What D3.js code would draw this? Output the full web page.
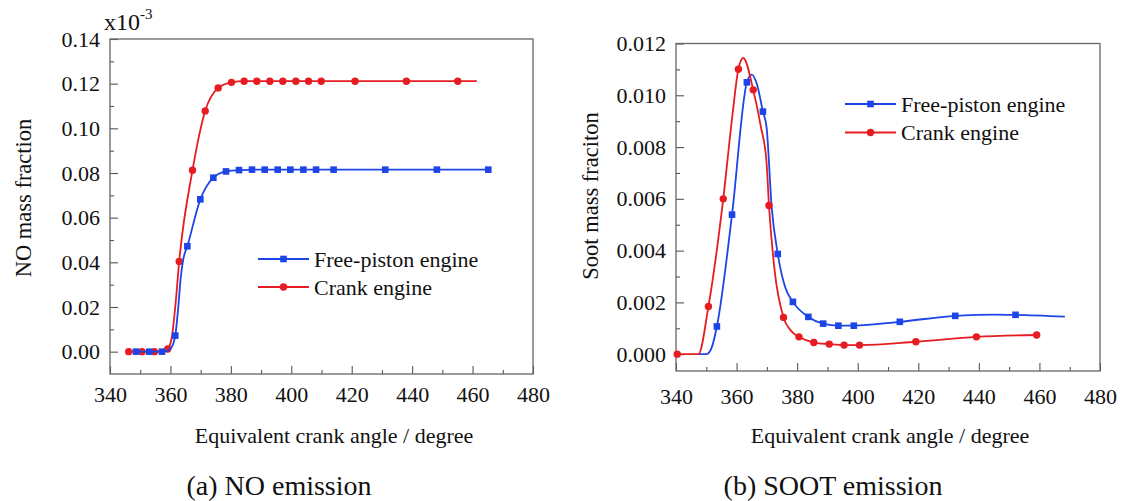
<!DOCTYPE html>
<html>
<head>
<meta charset="utf-8">
<script src="https://cdn.jsdelivr.net/npm/d3@7"></script>
<style>
  body { margin: 0; background: #fff; }
  svg text { font-family: "Liberation Serif", "Times New Roman", serif; fill: #111; }
</style>
</head>
<body>
<div id="chart"></div>
<script>
// ---- data ----
// (a) NO mass fraction (x10^-3), crank angle in degrees
const noFreeMarkers = [
  [348.6, 0], [353.0, 0], [357.2, 0], [361.6, 0.0072], [365.6, 0.0472],
  [369.9, 0.0682], [374.2, 0.0779], [378.4, 0.0807], [382.7, 0.0813],
  [387.0, 0.0815], [391.2, 0.0815], [395.5, 0.0815], [399.7, 0.0815],
  [404.0, 0.0815], [408.2, 0.0815], [414.0, 0.0815], [431.1, 0.0815],
  [448.2, 0.0815], [465.2, 0.0815]
];
const noFreeCurve = [
  [348.6, 0], [357.2, 0], [359.0, 0.0004], [360.3, 0.0018], [361.6, 0.0072],
  [362.6, 0.020], [363.4, 0.033], [364.2, 0.041], [365.6, 0.0472],
  [369.9, 0.0682], [374.2, 0.0779], [378.4, 0.0807], [382.7, 0.0813],
  [390, 0.0815], [465.2, 0.0815]
];
const noCrankMarkers = [
  [346.2, 0], [350.6, 0], [354.7, 0], [359.1, 0.0012], [362.9, 0.0404],
  [367.3, 0.0812], [371.5, 0.1078], [375.8, 0.1181], [380.2, 0.1206],
  [384.4, 0.1211], [388.6, 0.1211], [392.9, 0.1211], [397.2, 0.1211],
  [401.5, 0.1211], [405.7, 0.1211], [409.9, 0.1211], [421.1, 0.1211],
  [438.1, 0.1211], [455.1, 0.1211]
];
const noCrankCurve = [
  [346.2, 0], [357.5, 0], [359.1, 0.0012], [360.4, 0.006], [361.6, 0.020],
  [362.9, 0.0404], [367.3, 0.0812], [371.5, 0.1078], [375.8, 0.1181],
  [380.2, 0.1206], [384.4, 0.1211], [461.4, 0.1211]
];

// (b) Soot mass fraction
const sootFreeMarkers = [
  [353.5, 0.00107], [358.5, 0.00539], [363.4, 0.0105], [368.7, 0.00937],
  [373.6, 0.00387], [378.6, 0.00202], [383.7, 0.00144], [388.6, 0.00118],
  [393.6, 0.00110], [398.7, 0.00110], [413.9, 0.00125], [432.2, 0.00148],
  [452.1, 0.00152]
];
const sootFreeCurve = [
  [347.4, 0], [350.1, 0], [351.8, 0.00026], [353.5, 0.00107], [358.5, 0.00539],
  [363.4, 0.0105], [365.0, 0.0108], [366.8, 0.0104], [368.7, 0.00937],
  [369.9, 0.00877], [371.6, 0.00567], [373.6, 0.00387], [376.0, 0.0026],
  [378.6, 0.00202], [383.7, 0.00144], [388.6, 0.00118], [393.6, 0.00110],
  [398.7, 0.00110], [413.9, 0.00125], [432.2, 0.00148], [445.0, 0.00153],
  [452.1, 0.00152], [468.4, 0.00145]
];
const sootCrankMarkers = [
  [340.4, 0], [350.7, 0.00184], [355.6, 0.0060], [360.6, 0.01101],
  [365.5, 0.01021], [370.7, 0.00574], [375.5, 0.00142], [380.6, 0.00067],
  [385.5, 0.00045], [390.6, 0.00039], [395.5, 0.00035], [400.6, 0.00035],
  [419.2, 0.00048], [439.2, 0.00067], [459.1, 0.00074]
];
const sootCrankCurve = [
  [340.0, 0], [347.4, 0], [350.7, 0.00184], [355.6, 0.0060], [358.6, 0.0092],
  [360.6, 0.01101], [362.2, 0.01144], [365.5, 0.01021], [368.0, 0.0088],
  [369.9, 0.0074], [370.7, 0.00574], [372.6, 0.0032], [375.5, 0.00142],
  [378.0, 0.0009], [380.6, 0.00067], [385.5, 0.00045], [390.6, 0.00039],
  [395.5, 0.00035], [400.6, 0.00035], [419.2, 0.00048], [439.2, 0.00067],
  [459.1, 0.00074]
];

const xTicks = [340, 360, 380, 400, 420, 440, 460, 480];
const xMinor = [350, 370, 390, 410, 430, 450, 470];
const noTicks = [0.00, 0.02, 0.04, 0.06, 0.08, 0.10, 0.12, 0.14];
const noMinor = [0.01, 0.03, 0.05, 0.07, 0.09, 0.11, 0.13];
const sootTicks = [0.000, 0.002, 0.004, 0.006, 0.008, 0.010, 0.012];
const sootMinor = [0.001, 0.003, 0.005, 0.007, 0.009, 0.011];
const seriesNames = ["Free-piston engine", "Crank engine"];

const BLUE = "#1c44e6";
const RED = "#e61c22";
const FONT = "'Liberation Serif', 'Times New Roman', serif";

const W = 1124, H = 501;
const svg = d3.select("#chart").append("svg")
  .attr("width", W).attr("height", H)
  .attr("font-family", FONT);

function drawPanel(opt) {
  const x = d3.scaleLinear().domain([340, 480]).range([opt.left, opt.right]);
  const y = d3.scaleLinear().domain(opt.yDomain).range([opt.bottom, opt.top]);
  const g = svg.append("g");

  // minor ticks
  g.append("g").attr("transform", `translate(${opt.left},0)`)
    .call(d3.axisLeft(y).tickValues(opt.yMinor).tickSize(-4).tickFormat(""))
    .call(a => a.select(".domain").remove());
  g.append("g").attr("transform", `translate(0,${opt.bottom})`)
    .call(d3.axisBottom(x).tickValues(xMinor).tickSize(-4).tickFormat(""))
    .call(a => a.select(".domain").remove());

  // major ticks + labels
  const ya = g.append("g").attr("transform", `translate(${opt.left},0)`)
    .call(d3.axisLeft(y).tickValues(opt.yTicks).tickSize(-8).tickPadding(10).tickFormat(opt.yFmt));
  ya.select(".domain").remove();
  ya.attr("font-family", FONT).selectAll("text").attr("font-size", 22);
  const xa = g.append("g").attr("transform", `translate(0,${opt.bottom})`)
    .call(d3.axisBottom(x).tickValues(xTicks).tickSize(-8).tickPadding(opt.xPad).tickFormat(d3.format("d")));
  xa.select(".domain").remove();
  xa.attr("font-family", FONT).selectAll("text").attr("font-size", 22);
  g.selectAll(".tick line").attr("stroke", "#555").attr("stroke-width", 1.1);
  g.selectAll(".tick text").attr("fill", "#111");

  // frame
  g.append("rect")
    .attr("x", opt.left).attr("y", opt.top)
    .attr("width", opt.right - opt.left).attr("height", opt.bottom - opt.top)
    .attr("fill", "none").attr("stroke", "#666").attr("stroke-width", 1.3);

  const line = d3.line().x(d => x(d[0])).y(d => y(d[1])).curve(d3.curveMonotoneX);

  const series = [
    {curve: opt.crankCurve, markers: opt.crankMarkers, color: RED, shape: "circle"},
    {curve: opt.freeCurve, markers: opt.freeMarkers, color: BLUE, shape: "square"}
  ];
  if (opt.blueFirst) series.reverse();
  series.forEach(s => {
    g.append("path").datum(s.curve)
      .attr("d", line).attr("fill", "none")
      .attr("stroke", s.color).attr("stroke-width", 1.8);
    drawMarkers(g, s.markers.map(d => [x(d[0]), y(d[1])]), s.shape, s.color);
  });

  // legend
  const legend = [
    {name: seriesNames[0], color: BLUE, shape: "square", y: opt.legY[0]},
    {name: seriesNames[1], color: RED, shape: "circle", y: opt.legY[1]}
  ];
  legend.forEach(l => {
    g.append("line").attr("x1", opt.legX).attr("x2", opt.legX + 51)
      .attr("y1", l.y).attr("y2", l.y).attr("stroke", l.color).attr("stroke-width", 1.8);
    drawMarkers(g, [[opt.legX + 25.5, l.y]], l.shape, l.color);
    g.append("text").attr("x", opt.legX + 56).attr("y", l.y).attr("dy", "0.35em")
      .attr("font-size", 22).text(l.name);
  });

  // axis titles
  g.append("text").attr("x", opt.xTitleX).attr("y", 443)
    .attr("text-anchor", "middle").attr("font-size", 22)
    .text("Equivalent crank angle / degree");
  g.append("text")
    .attr("transform", `translate(${opt.yTitleX},${opt.yTitleY}) rotate(-90)`)
    .attr("text-anchor", "middle").attr("dy", "0.35em").attr("font-size", 22.5)
    .text(opt.yTitle);
  g.append("text").attr("x", opt.captionX).attr("y", 495)
    .attr("text-anchor", "middle").attr("font-size", 28)
    .text(opt.caption);
  return g;
}

function drawMarkers(g, pts, shape, color) {
  if (shape === "square") {
    g.append("g").selectAll("rect").data(pts).join("rect")
      .attr("x", d => d[0] - 3.3).attr("y", d => d[1] - 3.3)
      .attr("width", 6.6).attr("height", 6.6).attr("fill", color);
  } else {
    g.append("g").selectAll("circle").data(pts).join("circle")
      .attr("cx", d => d[0]).attr("cy", d => d[1]).attr("r", 3.7).attr("fill", color);
  }
}

const gA = drawPanel({
  left: 110, right: 533, top: 39, bottom: 374,
  yDomain: [-0.01, 0.14], yTicks: noTicks, yMinor: noMinor, yFmt: d3.format(".2f"),
  xPad: 12,
  freeCurve: noFreeCurve, freeMarkers: noFreeMarkers,
  crankCurve: noCrankCurve, crankMarkers: noCrankMarkers,
  legX: 258, legY: [259, 287],
  xTitleX: 334, yTitleX: 23, yTitleY: 198, yTitle: "NO mass fraction",
  captionX: 279, caption: "(a) NO emission"
});
// x10^-3 multiplier
const mult = gA.append("text").attr("x", 104).attr("y", 30).attr("font-size", 24);
mult.append("tspan").text("x10");
mult.append("tspan").attr("font-size", 15).attr("dy", -11).text("-3");

drawPanel({
  left: 676, right: 1100, top: 43.5, bottom: 371,
  yDomain: [-0.00065, 0.012], yTicks: sootTicks, yMinor: sootMinor, yFmt: d3.format(".3f"),
  xPad: 17,
  freeCurve: sootFreeCurve, freeMarkers: sootFreeMarkers,
  crankCurve: sootCrankCurve, crankMarkers: sootCrankMarkers,
  blueFirst: true,
  legX: 845, legY: [104, 132.5],
  xTitleX: 890, yTitleX: 590, yTitleY: 196, yTitle: "Soot mass fraciton",
  captionX: 833, caption: "(b) SOOT emission"
});
</script>
</body>
</html>
